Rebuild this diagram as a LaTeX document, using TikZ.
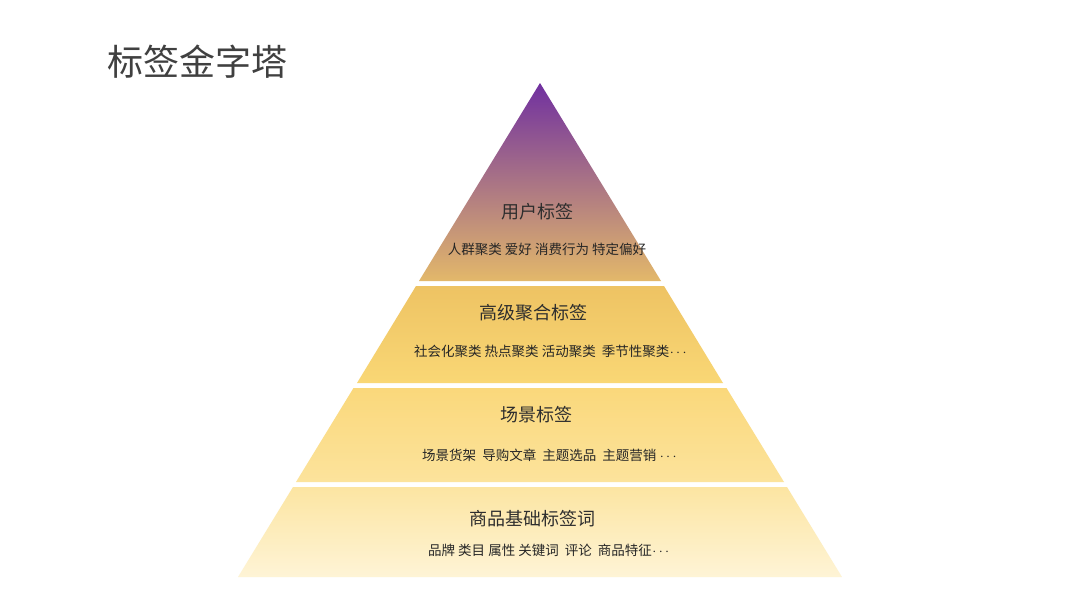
\documentclass[tikz,border=0pt]{standalone}
\usepackage{fontspec}
\setmainfont{Noto Sans CJK SC}
\newcommand\middots{\kern0.5pt$\cdots$}
\begin{document}
\begin{tikzpicture}[x=1pt,y=-1pt,
  ttl/.style={font=\fontsize{18}{20}\selectfont, text=black!82, inner sep=0pt},
  sub/.style={font=\fontsize{13.5}{15}\selectfont, text=black!85, inner sep=0pt}]
\useasboundingbox[fill=white] (0,0) rectangle (1080,605);
\definecolor{pa}{HTML}{7030A0}
\definecolor{pb}{HTML}{B08488}
\definecolor{pc}{HTML}{E3B86A}
\definecolor{ga}{HTML}{EEC363}
\definecolor{gb}{HTML}{F9D775}
\definecolor{ha}{HTML}{FAD87B}
\definecolor{hb}{HTML}{FCE39C}
\definecolor{ka}{HTML}{FCE5A2}
\definecolor{kb}{HTML}{FEF4D6}
% layers
\shade[top color=pa, middle color=pb, bottom color=pc] (540,83) -- (661,281) -- (419,281) -- cycle;
\shade[top color=ga, bottom color=gb] (416,286) -- (664,286) -- (723,383) -- (357,383) -- cycle;
\shade[top color=ha, bottom color=hb] (353.5,388) -- (726.5,388) -- (784,482) -- (296,482) -- cycle;
\shade[top color=ka, bottom color=kb] (293,487) -- (787,487) -- (842,577) -- (238,577) -- cycle;
% title
\node[anchor=west, font=\fontsize{36}{40}\selectfont, text=black!75, inner sep=0pt] (title) at (107,62) {标签金字塔};
% texts
\node[ttl] (t1) at (537,212) {用户标签};
\node[sub] (s1) at (547,249) {人群聚类 爱好 消费行为 特定偏好};
\node[ttl] (t2) at (533,313) {高级聚合标签};
\node[sub, anchor=west] (s2) at (414,351) {社会化聚类 热点聚类 活动聚类 \ 季节性聚类\middots};
\node[ttl] (t3) at (536,415) {场景标签};
\node[sub, anchor=west] (s3) at (422,455) {场景货架\ \ 导购文章\ \ 主题选品\ \ 主题营销 \middots};
\node[ttl] (t4) at (532,519) {商品基础标签词};
\node[sub, anchor=west] (s4) at (428,550) {品牌 类目 属性 关键词\ \ 评论\ \ 商品特征\middots};
\end{tikzpicture}
\end{document}
